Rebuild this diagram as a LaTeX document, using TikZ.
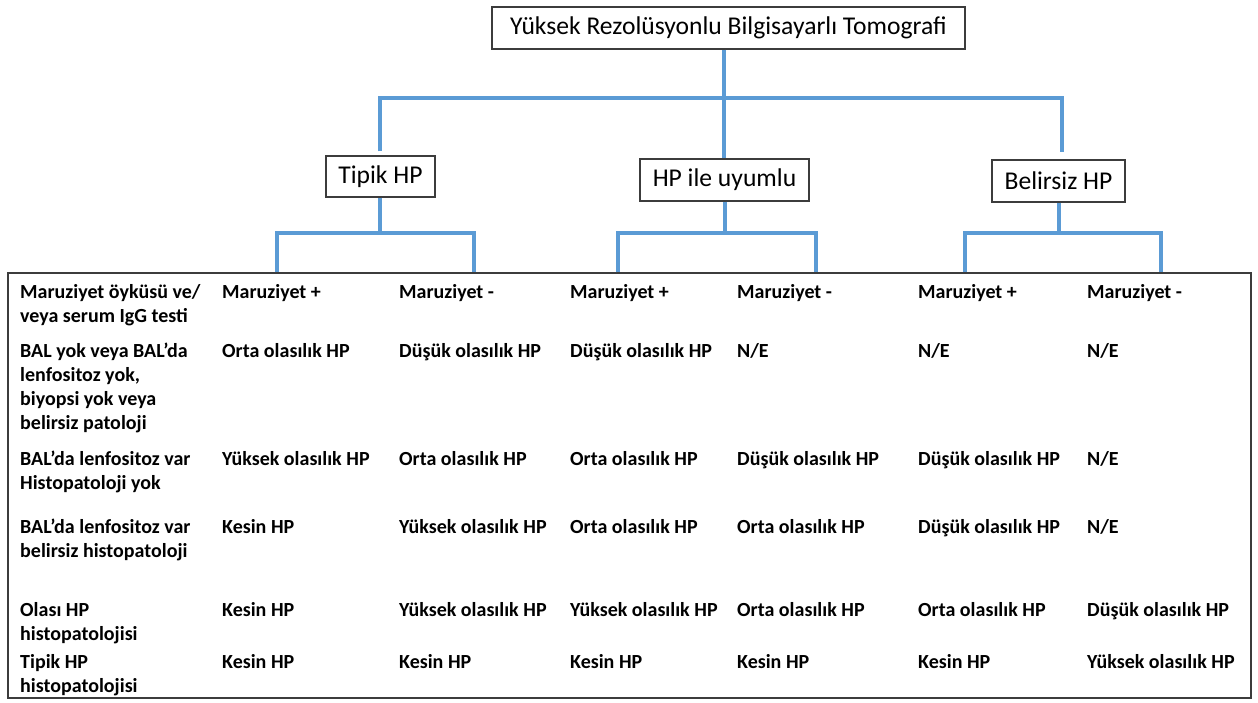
\documentclass[tikz,border=0pt]{standalone}
\usepackage{fontspec}
\setmainfont{Carlito}
\definecolor{linkblue}{RGB}{91,155,213}
\definecolor{boxgray}{RGB}{60,60,60}
\begin{document}
\begin{tikzpicture}[x=1pt,y=-1pt,
  hbox/.style={draw=boxgray,line width=1.1pt,inner sep=0pt,font=\fontsize{25.6}{30}\selectfont},
  link/.style={draw=linkblue,line width=4pt,line join=miter},
  tbl/.style={draw=boxgray,line width=1.4pt,inner sep=0pt},
  cell/.style={anchor=north west,inner sep=0pt,align=left,font=\bfseries\fontsize{20}{24}\selectfont}]
\useasboundingbox (0,0) rectangle (1258,702);
% tree boxes
\node[hbox,minimum width=473pt,minimum height=42pt] (top) at (728.5,28) {Yüksek Rezolüsyonlu Bilgisayarlı Tomografi};
\node[hbox,minimum width=109pt,minimum height=41pt] (tip) at (380.5,176.5) {Tipik HP};
\node[hbox,minimum width=169pt,minimum height=42pt] (uyu) at (724.5,180) {HP ile uyumlu};
\node[hbox,minimum width=133pt,minimum height=42pt] (bel) at (1058.5,181) {Belirsiz HP};
% table frame
\node[tbl,minimum width=1243pt,minimum height=425pt] (tab) at (629.5,485.5) {};
% junction coordinates
\coordinate (j0) at (724,98);
\coordinate (jl) at (380,98);
\coordinate (jr) at (1062,98);
\coordinate (jt) at (380,233);
\coordinate (ju) at (725,233);
\coordinate (jb) at (1059,233);
% top level
\draw[link] (top.south -| j0) -- (j0);
\draw[link] (tip.north -| jl) ++(0,-4) -- (jl) -- (jr) -- ++(0,54);
\draw[link] (j0) -- (uyu.north -| j0);
% second level
\draw[link] (tip.south -| jt) -- (jt);
\draw[link] (tab.north -| 277,0) -- (277,233) -- (474,233) -- (tab.north -| 474,0);
\draw[link] (uyu.south -| ju) -- (ju);
\draw[link] (tab.north -| 618,0) -- (618,233) -- (816,233) -- (tab.north -| 816,0);
\draw[link] (bel.south -| jb) -- (jb);
\draw[link] (tab.north -| 965,0) -- (965,233) -- (1161,233) -- (tab.north -| 1161,0);
% table cells (positions: x of column, top = baseline - 16.8)
\newcommand{\cellat}[3]{\node[cell] at (#1,#2-16.8) {\strut #3};}
% row 1
\cellat{20}{298}{Maruziyet öyküsü ve/\\veya serum IgG testi}
\cellat{222}{298}{Maruziyet +}
\cellat{399}{298}{Maruziyet -}
\cellat{570}{298}{Maruziyet +}
\cellat{737}{298}{Maruziyet -}
\cellat{918}{298}{Maruziyet +}
\cellat{1087}{298}{Maruziyet -}
% row 2
\cellat{20}{357}{BAL yok veya BAL’da\\lenfositoz yok,\\biyopsi yok veya\\belirsiz patoloji}
\cellat{222}{357}{Orta olasılık HP}
\cellat{399}{357}{Düşük olasılık HP}
\cellat{570}{357}{Düşük olasılık HP}
\cellat{737}{357}{N/E}
\cellat{918}{357}{N/E}
\cellat{1087}{357}{N/E}
% row 3
\cellat{20}{465}{BAL’da lenfositoz var\\Histopatoloji yok}
\cellat{222}{465}{Yüksek olasılık HP}
\cellat{399}{465}{Orta olasılık HP}
\cellat{570}{465}{Orta olasılık HP}
\cellat{737}{465}{Düşük olasılık HP}
\cellat{918}{465}{Düşük olasılık HP}
\cellat{1087}{465}{N/E}
% row 4
\cellat{20}{533}{BAL’da lenfositoz var\\belirsiz histopatoloji}
\cellat{222}{533}{Kesin HP}
\cellat{399}{533}{Yüksek olasılık HP}
\cellat{570}{533}{Orta olasılık HP}
\cellat{737}{533}{Orta olasılık HP}
\cellat{918}{533}{Düşük olasılık HP}
\cellat{1087}{533}{N/E}
% row 5
\cellat{20}{616}{Olası HP\\histopatolojisi}
\cellat{222}{616}{Kesin HP}
\cellat{399}{616}{Yüksek olasılık HP}
\cellat{570}{616}{Yüksek olasılık HP}
\cellat{737}{616}{Orta olasılık HP}
\cellat{918}{616}{Orta olasılık HP}
\cellat{1087}{616}{Düşük olasılık HP}
% row 6
\cellat{20}{668}{Tipik HP\\histopatolojisi}
\cellat{222}{668}{Kesin HP}
\cellat{399}{668}{Kesin HP}
\cellat{570}{668}{Kesin HP}
\cellat{737}{668}{Kesin HP}
\cellat{918}{668}{Kesin HP}
\cellat{1087}{668}{Yüksek olasılık HP}
\end{tikzpicture}
\end{document}
